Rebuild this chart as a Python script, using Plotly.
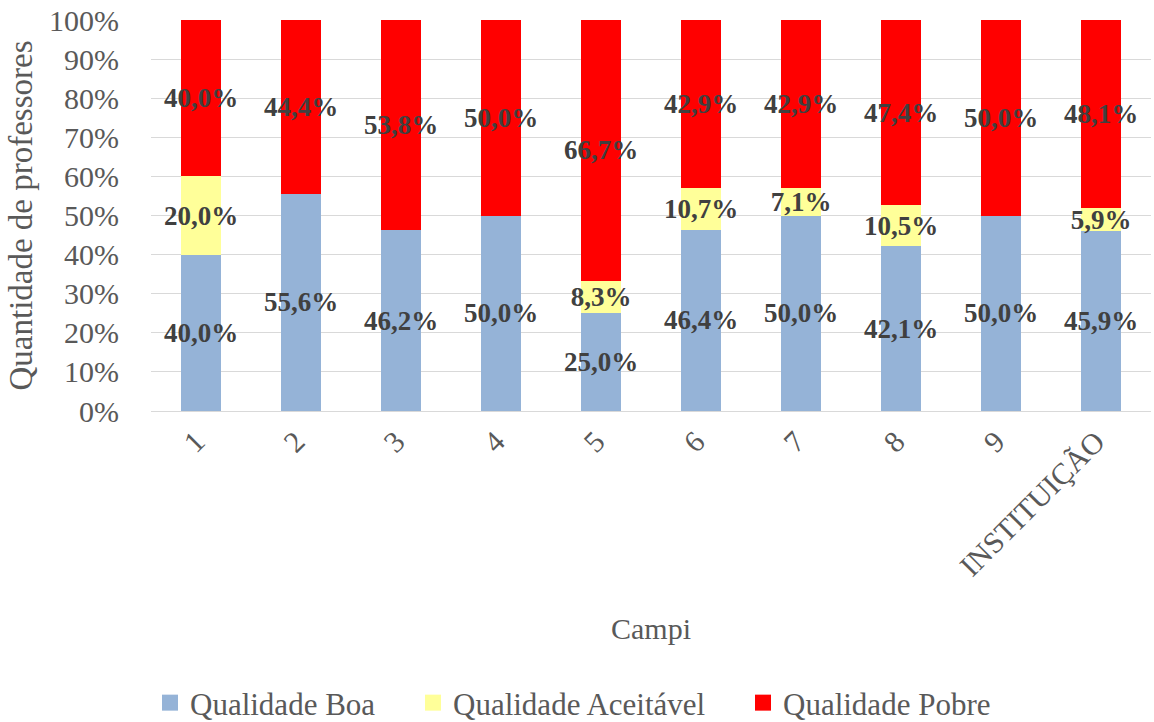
import plotly.graph_objects as go

categories = ["1", "2", "3", "4", "5", "6", "7", "8", "9", "INSTITUIÇÃO"]
boa = [40.0, 55.6, 46.2, 50.0, 25.0, 46.4, 50.0, 42.1, 50.0, 45.9]
aceitavel = [20.0, 0.0, 0.0, 0.0, 8.3, 10.7, 7.1, 10.5, 0.0, 5.9]
pobre = [40.0, 44.4, 53.8, 50.0, 66.7, 42.9, 42.9, 47.4, 50.0, 48.1]
y_ticks = [0, 10, 20, 30, 40, 50, 60, 70, 80, 90, 100]
y_ticktext = [f"{v}%" for v in y_ticks]


def labels(vals):
    return [("%.1f%%" % v).replace(".", ",") if v > 0 else "" for v in vals]


FONT = "Liberation Serif"
series = [
    ("Qualidade Boa", boa, "#95B3D7", "legend"),
    ("Qualidade Aceitável", aceitavel, "#FFFF99", "legend2"),
    ("Qualidade Pobre", pobre, "#FF0000", "legend3"),
]

fig = go.Figure()
for name, vals, color, lg in series:
    fig.add_trace(go.Bar(
        x=categories, y=vals, name=name, showlegend=False, legendgroup=name,
        marker=dict(color=color, line=dict(width=0)),
        text=labels(vals), textposition="inside", insidetextanchor="middle",
        constraintext="none", textangle=0,
        insidetextfont=dict(family=FONT, size=27, color="#404040", weight="bold"),
        hoverinfo="skip",
    ))
for name, vals, color, lg in series:
    fig.add_trace(go.Scatter(
        x=[None], y=[None], mode="markers", name=name, legendgroup=name,
        legend=lg, showlegend=True,
        marker=dict(symbol="square", size=16, color=color),
        hoverinfo="skip",
    ))

leg_common = dict(orientation="h", xref="container", yref="container",
                  xanchor="left", y=(722 - 703) / 722, yanchor="middle",
                  font=dict(family=FONT, size=31, color="#595959"),
                  itemsizing="trace", bgcolor="rgba(0,0,0,0)")

fig.update_layout(
    barmode="stack", barnorm="percent", bargap=0.6,
    width=1154, height=722,
    margin=dict(l=151, r=3, t=20, b=311, autoexpand=False),
    paper_bgcolor="white", plot_bgcolor="white",
    font=dict(family=FONT, size=30, color="#595959"),
    showlegend=True,
    legend=dict(x=150 / 1154, **leg_common),
    legend2=dict(x=413 / 1154, **leg_common),
    legend3=dict(x=743 / 1154, **leg_common),
    xaxis=dict(type="category", tickangle=-45, showgrid=False,
               showline=True, linecolor="#D9D9D9", linewidth=1,
               ticklabelshift=-5,
               tickfont=dict(family=FONT, size=30, color="#595959")),
    yaxis=dict(range=[0, 100], tickvals=y_ticks, ticktext=y_ticktext,
               showgrid=True, gridcolor="#D9D9D9", gridwidth=1,
               zeroline=False, ticklabelstandoff=31,
               tickfont=dict(family=FONT, size=30, color="#595959"),
               title=dict(text="Quantidade de professores", standoff=6,
                          font=dict(family=FONT, size=33, color="#595959"))),
    annotations=[dict(text="Campi", xref="paper", yref="paper", x=0.5, y=-0.555,
                      showarrow=False, xanchor="center", yanchor="middle",
                      font=dict(family=FONT, size=30, color="#595959"))],
)

fig.write_html("out.html", config={"displayModeBar": False},
               post_script="document.body.style.margin='0';document.body.style.overflow='hidden';")
